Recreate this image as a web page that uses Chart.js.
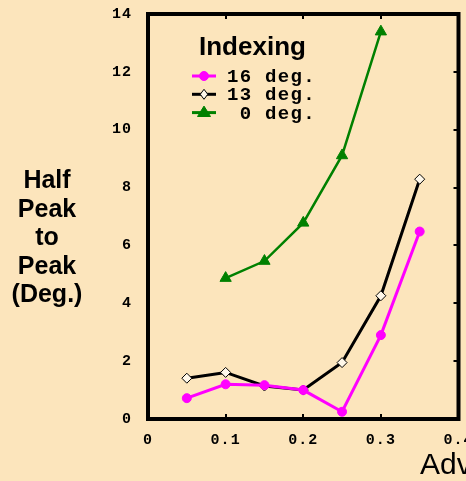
<!DOCTYPE html>
<html>
<head>
<meta charset="utf-8">
<script src="https://cdn.jsdelivr.net/npm/chart.js@4/dist/chart.umd.min.js"></script>
<style>
  html, body { margin: 0; padding: 0; background: #fce5bc; }
  #wrap { width: 466px; height: 481px; }
</style>
</head>
<body>
<div id="wrap"><canvas id="chart" width="466" height="481"></canvas></div>
<script>
const ratio = [0.05, 0.1, 0.15, 0.2, 0.25, 0.3, 0.35];
const deg16 = [0.72, 1.2, 1.17, 1.0, 0.25, 2.9, 6.48];
const deg13 = [1.41, 1.61, 1.14, 1.0, 1.95, 4.26, 8.29];
const ratio0 = [0.1, 0.15, 0.2, 0.25, 0.3];
const deg0 = [4.87, 5.46, 6.78, 9.11, 13.39];
const xTicks = [0, 0.1, 0.2, 0.3, 0.4];
const yTicks = [0, 2, 4, 6, 8, 10, 12, 14];
const legendTitle = 'Indexing';
const legendLabels = ['16 deg.', '13 deg.', ' 0 deg.'];
const yTitle = ['Half', 'Peak', 'to', 'Peak', '(Deg.)'];
const xTitle = 'Advance Ratio';

const pts = (xs, ys) => xs.map((x, i) => ({ x: x, y: ys[i] }));

function drawMarker(ctx, style, x, y, r) {
    if (style === 'circle') {
        ctx.arc(x, y, r, 0, Math.PI * 2);
    } else if (style === 'rectRot') {
        ctx.moveTo(x, y - r); ctx.lineTo(x + r * 0.75, y);
        ctx.lineTo(x, y + r); ctx.lineTo(x - r * 0.75, y); ctx.closePath();
    } else {
        ctx.moveTo(x, y - r); ctx.lineTo(x + r, y + r * 0.6);
        ctx.lineTo(x - r, y + r * 0.6); ctx.closePath();
    }
}

const frame = {
    id: 'frame',
    beforeDraw(chart) {
        chart.ctx.letterSpacing = '1px';
    },
    afterDraw(chart) {
        const ctx = chart.ctx;
        const a = chart.chartArea;
        const xs = chart.scales.x, ys = chart.scales.y;
        ctx.save();
        ctx.letterSpacing = '0px';
        ctx.strokeStyle = '#000';
        // little ticks on the inside of the frame
        ctx.lineWidth = 2;
        ctx.beginPath();
        xTicks.slice(1, -1).forEach(v => {
            const px = Math.round(xs.getPixelForValue(v));
            ctx.moveTo(px, a.bottom); ctx.lineTo(px, a.bottom - 5);
            ctx.moveTo(px, a.top); ctx.lineTo(px, a.top + 5);
        });
        yTicks.slice(1, -1).forEach(v => {
            const py = Math.round(ys.getPixelForValue(v));
            ctx.moveTo(a.right, py); ctx.lineTo(a.right - 5, py);
        });
        ctx.stroke();
        ctx.lineWidth = 4;
        ctx.strokeRect(a.left, a.top, a.right - a.left, a.bottom - a.top);

        // legend
        ctx.fillStyle = '#000';
        ctx.font = 'bold 26px "Liberation Sans", Arial, sans-serif';
        ctx.textAlign = 'left';
        ctx.textBaseline = 'alphabetic';
        ctx.fillText(legendTitle, 199, 55);
        chart.data.datasets.forEach((ds, i) => {
            const cy = 76 + i * 18.3;
            ctx.strokeStyle = ds.borderColor;
            ctx.lineWidth = 3;
            ctx.beginPath();
            ctx.moveTo(192, cy); ctx.lineTo(216, cy);
            ctx.stroke();
            ctx.fillStyle = ds.pointBackgroundColor;
            ctx.strokeStyle = ds.pointBorderColor;
            ctx.lineWidth = 1;
            ctx.beginPath();
            drawMarker(ctx, ds.pointStyle, 204, cy, ds.pointRadius);
            ctx.fill(); ctx.stroke();
            ctx.fillStyle = '#000';
            ctx.letterSpacing = '1.3px';
            ctx.font = 'bold 19px "Liberation Mono", "Courier New", monospace';
            ctx.fillText(legendLabels[i], 227, cy + 6);
            ctx.letterSpacing = '0px';
        });

        // axis titles
        ctx.font = 'bold 25px "Liberation Sans", Arial, sans-serif';
        ctx.textAlign = 'center';
        yTitle.forEach((t, i) => ctx.fillText(t, 47, 188 + i * 28.5));
        ctx.font = '30px "Liberation Sans", Arial, sans-serif';
        ctx.textAlign = 'left';
        ctx.fillText(xTitle, 420, 474);
        ctx.restore();
    }
};

const tickFont = { family: '"Liberation Mono", "Courier New", monospace', size: 15, weight: 'bold' };

new Chart(document.getElementById('chart'), {
    type: 'scatter',
    data: {
        datasets: [{
            label: legendLabels[0],
            data: pts(ratio, deg16),
            showLine: true,
            borderColor: '#ff00ff',
            borderWidth: 3,
            pointStyle: 'circle',
            pointRadius: 4.5,
            pointBackgroundColor: '#ff00ff',
            pointBorderColor: '#ff00ff',
            pointBorderWidth: 1
        }, {
            label: legendLabels[1],
            data: pts(ratio, deg13),
            showLine: true,
            borderColor: '#000000',
            borderWidth: 3,
            pointStyle: 'rectRot',
            pointRadius: 5,
            pointBackgroundColor: '#fff8ea',
            pointBorderColor: '#000000',
            pointBorderWidth: 1
        }, {
            label: legendLabels[2],
            data: pts(ratio0, deg0),
            showLine: true,
            borderColor: '#008000',
            borderWidth: 2.5,
            pointStyle: 'triangle',
            pointRadius: 6.5,
            pointBackgroundColor: '#008000',
            pointBorderColor: '#008000',
            pointBorderWidth: 1
        }]
    },
    options: {
        responsive: false,
        animation: false,
        events: [],
        layout: { padding: { top: 14, right: 6, left: 0, bottom: 0 } },
        plugins: { legend: { display: false }, tooltip: { enabled: false } },
        scales: {
            x: {
                type: 'linear',
                min: 0, max: 0.4,
                grid: { display: false, drawTicks: false },
                border: { display: false },
                afterBuildTicks: s => { s.ticks = xTicks.map(v => ({ value: v })); },
                ticks: {
                    color: '#000', font: tickFont, padding: 12, maxRotation: 0,
                    callback: v => v === 0 ? '0' : v.toFixed(1)
                },
                afterFit: s => { s.height = 62; s.paddingLeft = 0; s.paddingRight = 0; }
            },
            y: {
                min: 0, max: 14,
                grid: { display: false, drawTicks: false },
                border: { display: false },
                afterBuildTicks: s => { s.ticks = yTicks.map(v => ({ value: v })); },
                ticks: { color: '#000', font: tickFont, padding: 16 },
                afterFit: s => { s.width = 148; s.paddingTop = 0; s.paddingBottom = 0; }
            }
        }
    },
    plugins: [frame]
});
</script>
</body>
</html>
